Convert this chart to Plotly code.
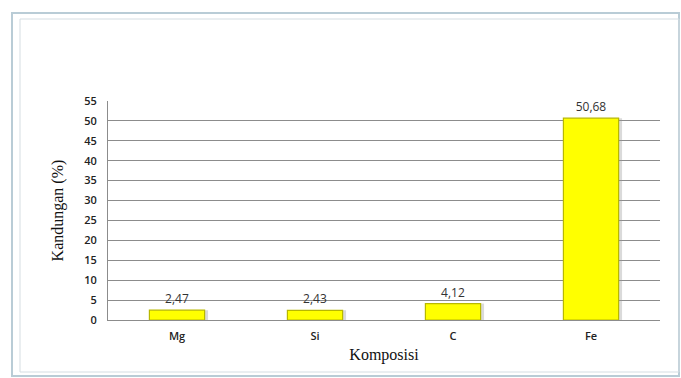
import plotly.graph_objects as go

# Composition data (%)
categories = ["Mg", "Si", "C", "Fe"]
values = [2.47, 2.43, 4.12, 50.68]
y_ticks = [0, 5, 10, 15, 20, 25, 30, 35, 40, 45, 50, 55]

W, H = 681, 378
L, R, T, B = 108, 21, 101, 58
pw, ph = W - L - R, H - T - B


def px_x(x):
    return (x - L) / pw


def px_y(y):
    return (H - B - y) / ph


label_font = dict(family="Open Sans", size=11, color="#222222", weight=600)

fig = go.Figure()

# soft shadow behind each bar
fig.add_trace(go.Bar(
    x=categories, y=values, width=0.4, offset=-0.2 + 0.025,
    marker=dict(color="rgba(150,150,150,0.35)", line=dict(width=0)),
    hoverinfo="skip", showlegend=False,
))

fig.add_trace(go.Bar(
    x=categories, y=values, width=0.4, offset=-0.2,
    marker=dict(color="#FFFF00", line=dict(color="#B8B800", width=1.2)),
    texttemplate="%{y:.2f}", textposition="outside",
    textfont=dict(family="Open Sans", size=12, color="#333333"),
    cliponaxis=False, showlegend=False,
))

# outer frame around the chart
fig.add_shape(type="rect", xref="paper", yref="paper",
              x0=px_x(12), x1=px_x(679), y0=px_y(376), y1=px_y(13),
              line=dict(color="#B9CCD6", width=2), layer="below")
fig.add_shape(type="rect", xref="paper", yref="paper",
              x0=px_x(20), x1=px_x(679), y0=px_y(372), y1=px_y(19),
              line=dict(color="#D5DDE2", width=1), layer="below")

fig.update_layout(
    width=W, height=H,
    margin=dict(l=L, r=R, t=T, b=B),
    paper_bgcolor="white", plot_bgcolor="white",
    separators=",.",
    barmode="overlay",
    xaxis=dict(
        showgrid=False, showline=True, linecolor="#8C8C8C", linewidth=1,
        tickfont=label_font,
        ticks="", ticklabelstandoff=6,
        title=dict(text="Komposisi", font=dict(family="Liberation Serif", size=16, color="#111111"),
                   standoff=6),
    ),
    yaxis=dict(
        range=[0, 55], tickvals=y_ticks,
        showgrid=True, gridcolor="#8C8C8C", gridwidth=1,
        showline=True, linecolor="#8C8C8C", linewidth=1,
        zeroline=False,
        tickfont=label_font,
        ticks="", ticklabelstandoff=8,
        title=dict(text="Kandungan (%)", font=dict(family="Liberation Serif", size=16, color="#111111"),
                   standoff=16),
    ),
)

fig.write_html("out.html")
